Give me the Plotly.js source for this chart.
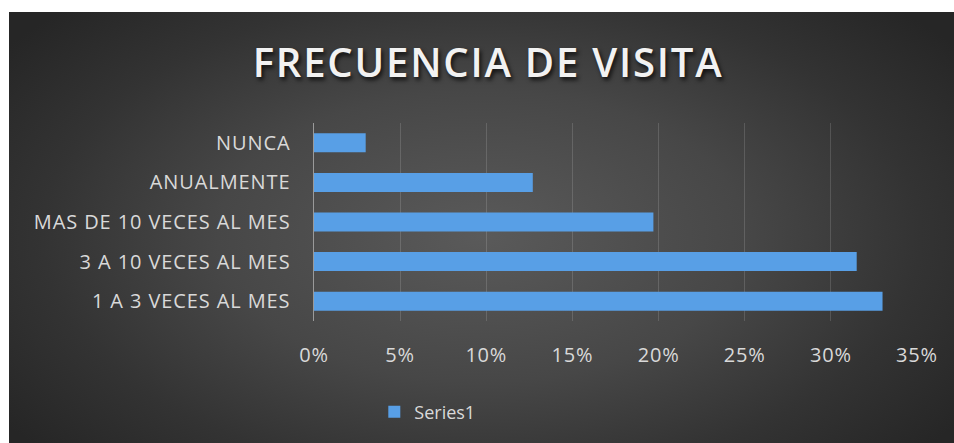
<!DOCTYPE html>
<html>
<head>
<meta charset="utf-8">
<script src="https://cdn.plot.ly/plotly-3.0.1.min.js"></script>
<style>
  html, body { margin: 0; padding: 0; background: #ffffff; width: 954px; height: 443px; overflow: hidden; }
  #chart {
    position: absolute; left: 9px; top: 12px; width: 945px; height: 431px;
    background: radial-gradient(ellipse 62% 75% at 50% 52%, #5a5a5a 0%, #474747 45%, #333333 75%, #262626 100%);
  }
  #chart .ytick text { letter-spacing: 0.9px; }
  #chart .xtick text { letter-spacing: 0.8px; }
  #chart .gtitle { letter-spacing: 1.8px; }
</style>
</head>
<body>
<div id="chart"></div>
<script>
const categories = ['1 A 3 VECES AL MES', '3 A 10 VECES AL MES', 'MAS DE 10 VECES AL MES', 'ANUALMENTE', 'NUNCA'];
const values = [0.33, 0.315, 0.197, 0.127, 0.03];
const seriesName = 'Series1';
const chartTitle = 'FRECUENCIA DE VISITA';

const trace = {
  type: 'bar',
  orientation: 'h',
  y: categories,
  x: values,
  name: seriesName,
  marker: { color: '#589fe6', line: { width: 0 } },
  showlegend: true,
  hoverinfo: 'x+y'
};

const layout = {
  width: 945,
  height: 431,
  paper_bgcolor: 'rgba(0,0,0,0)',
  plot_bgcolor: 'rgba(0,0,0,0)',
  margin: { l: 304.5, r: 37, t: 111, b: 122, pad: 0 },
  bargap: 0.52,
  title: {
    text: chartTitle,
    xref: 'container', yref: 'container',
    x: 0.507, y: 0.882, xanchor: 'center', yanchor: 'middle',
    font: { family: 'Open Sans', size: 40, color: '#f2f2f2', weight: 600, shadow: '2px 3px 4px rgba(0,0,0,0.75)' }
  },
  xaxis: {
    range: [0, 0.35],
    dtick: 0.05,
    tick0: 0,
    tickformat: '.0%',
    showgrid: true,
    gridcolor: 'rgba(255,255,255,0.14)',
    gridwidth: 1,
    zeroline: false,
    showline: false,
    ticks: '',
    ticklabelstandoff: 20,
    tickfont: { family: 'Open Sans', size: 20, color: '#d9d9d9' },
    fixedrange: true
  },
  yaxis: {
    type: 'category',
    showgrid: false,
    zeroline: false,
    showline: true,
    linecolor: '#9a9a9a',
    linewidth: 1.5,
    ticks: '',
    ticklabelstandoff: 18,
    tickfont: { family: 'Open Sans', size: 20, color: '#d9d9d9' },
    fixedrange: true
  },
  showlegend: true,
  legend: {
    orientation: 'h',
    x: 0.10, xanchor: 'left',
    y: -0.46, yanchor: 'middle',
    bgcolor: 'rgba(0,0,0,0)',
    font: { family: 'Open Sans', size: 18, color: '#d9d9d9' }
  }
};

Plotly.newPlot('chart', [trace], layout, { displayModeBar: false, staticPlot: true });
</script>
</body>
</html>
